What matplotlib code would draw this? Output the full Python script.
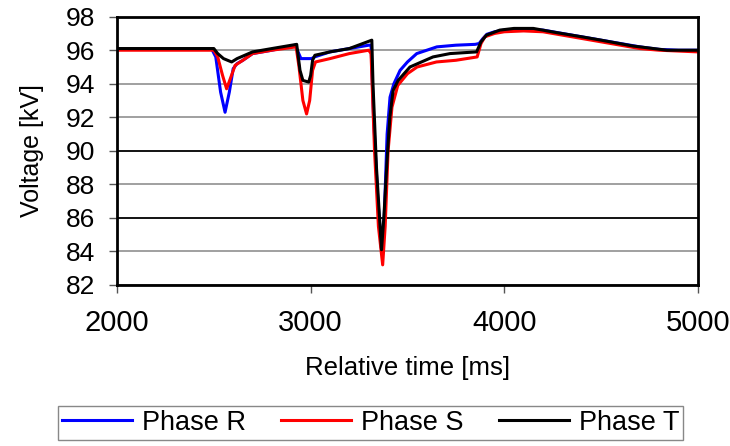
import matplotlib
matplotlib.use("Agg")
import matplotlib.pyplot as plt

plt.rcParams['font.family'] = ['Liberation Sans', 'DejaVu Sans']

# Phase R (blue)
t_r = [2000, 2490, 2510, 2535, 2558, 2580, 2600, 2620, 2650, 2700, 2800, 2920,
       2935, 2950, 2990, 3005, 3020, 3100, 3200, 3300, 3312, 3325, 3345, 3365,
       3380, 3395, 3410, 3430, 3462, 3500, 3548, 3652, 3750, 3850, 3870, 3890,
       3910, 3950, 4000, 4100, 4200, 4300, 4400, 4500, 4600, 4700, 4800, 4900, 5000]
v_r = [96.05, 96.05, 95.6, 93.5, 92.3, 93.5, 94.9, 95.2, 95.4, 95.8, 96.0, 96.3,
       95.9, 95.5, 95.5, 95.5, 95.6, 95.9, 96.1, 96.3, 96.3, 92.0, 87.5, 84.2,
       86.0, 91.0, 93.2, 94.0, 94.8, 95.3, 95.8, 96.2, 96.3, 96.35, 96.4, 96.7,
       96.95, 97.1, 97.2, 97.25, 97.2, 97.0, 96.8, 96.6, 96.4, 96.2, 96.05, 96.0, 96.0]

# Phase S (red)
t_s = [2000, 2500, 2520, 2545, 2566, 2585, 2610, 2650, 2700, 2800, 2925, 2940,
       2960, 2979, 2995, 3010, 3025, 3100, 3200, 3300, 3312, 3330, 3350, 3372,
       3385, 3400, 3420, 3450, 3500, 3550, 3650, 3750, 3860, 3880, 3900, 3950,
       4000, 4100, 4200, 4300, 4400, 4500, 4600, 4700, 4800, 4900, 5000]
v_s = [96.0, 96.0, 95.6, 94.5, 93.7, 94.3, 95.1, 95.4, 95.8, 96.0, 96.2, 95.0,
       93.0, 92.2, 93.0, 94.8, 95.3, 95.5, 95.8, 96.0, 95.8, 90.0, 85.5, 83.2,
       85.5, 90.0, 92.6, 93.9, 94.6, 95.0, 95.3, 95.4, 95.6, 96.4, 96.8, 97.0,
       97.1, 97.15, 97.1, 96.9, 96.7, 96.5, 96.3, 96.1, 96.0, 95.95, 95.9]

# Phase T (black)
t_t = [2000, 2500, 2520, 2550, 2592, 2620, 2700, 2800, 2928, 2945, 2960, 2990,
       3000, 3010, 3022, 3100, 3200, 3316, 3322, 3340, 3366, 3378, 3395, 3409,
       3426, 3452, 3513, 3632, 3720, 3857, 3880, 3908, 3977, 4050, 4150, 4270,
       4400, 4500, 4665, 4840, 5000]
v_t = [96.1, 96.1, 95.8, 95.5, 95.3, 95.5, 95.9, 96.1, 96.35, 94.8, 94.2, 94.1,
       94.5, 95.4, 95.7, 95.9, 96.1, 96.6, 94.0, 89.0, 84.1, 86.0, 89.5, 92.0,
       93.6, 94.2, 95.0, 95.6, 95.8, 95.9, 96.5, 96.9, 97.2, 97.3, 97.3, 97.05,
       96.8, 96.6, 96.25, 96.0, 96.0]

yticks = list(range(82, 99, 2))
xticks = [2000, 3000, 4000, 5000]

fig = plt.figure(figsize=(7.3, 4.46), dpi=100)
ax = fig.add_axes([0.1603, 0.361, 0.7957, 0.6016])

ax.plot(t_r, v_r, color='#0000ff', lw=2.2, label='Phase R')
ax.plot(t_s, v_s, color='#ff0000', lw=2.2, label='Phase S')
ax.plot(t_t, v_t, color='black', lw=2.2, label='Phase T')

ax.set_xlim(2000, 5000)
ax.set_ylim(82, 98)
ax.set_xticks(xticks)
ax.set_yticks(yticks)
ax.yaxis.grid(True, color='#999999', lw=1.3)
for gl, yv in zip(ax.get_ygridlines(), yticks):
    if yv in (86, 90):
        gl.set_color('black')
ax.set_axisbelow(True)

for s in ax.spines.values():
    s.set_linewidth(2)
    s.set_color('black')

ax.tick_params(axis='x', direction='out', length=6, width=1, color='#555555',
               labelsize=21, pad=11)
ax.tick_params(axis='y', direction='out', length=6, width=1, color='#555555',
               labelsize=19, pad=10)

ax.set_xlabel('Relative time [ms]', fontsize=18.5, labelpad=14)
ax.set_ylabel('Voltage [kV]', fontsize=18, labelpad=15)

fig.legend(loc='center', bbox_to_anchor=(0.5075, 0.052), ncol=3, fontsize=19.5,
           frameon=True, fancybox=False, edgecolor='#888888', framealpha=1,
           handlelength=2.6, handletextpad=0.35, columnspacing=1.3,
           borderpad=0.15, borderaxespad=0.0)

fig.savefig('out.png', dpi=100)
